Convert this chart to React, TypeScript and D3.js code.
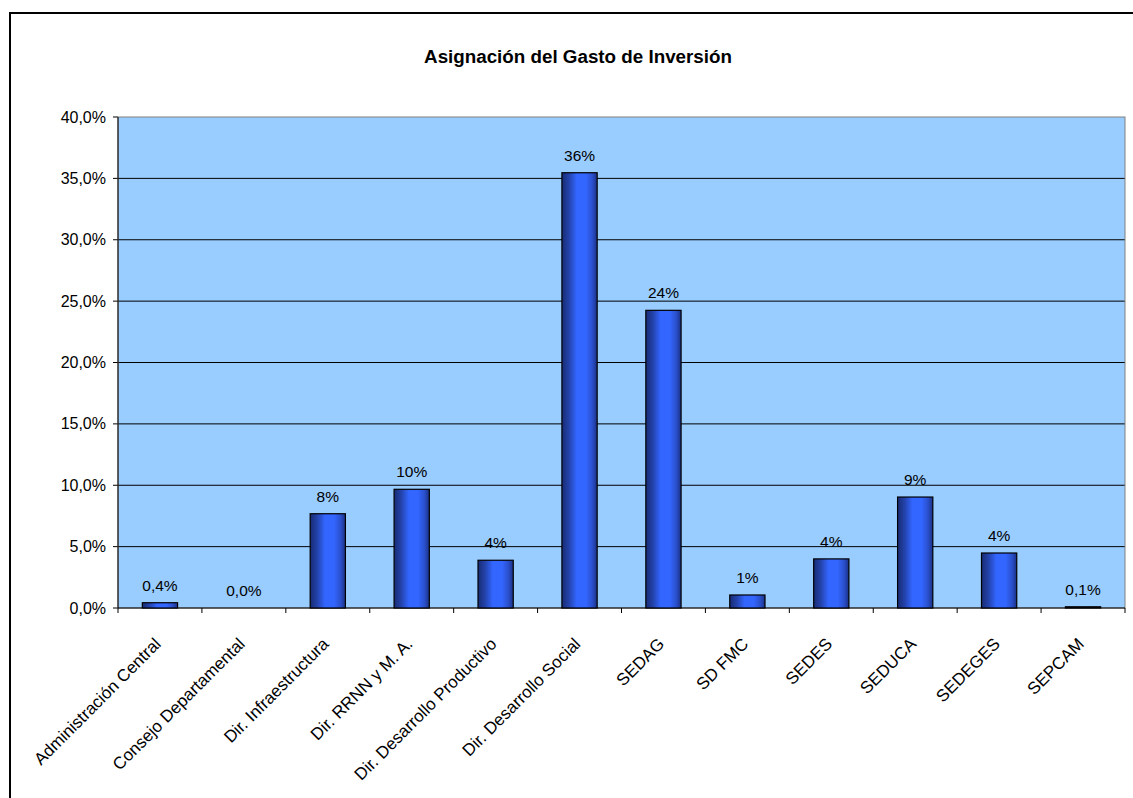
import React from "react";
import * as d3 from "d3";

const categories = [
  "Administración Central",
  "Consejo Departamental",
  "Dir. Infraestructura",
  "Dir. RRNN y M. A.",
  "Dir. Desarrollo Productivo",
  "Dir. Desarrollo Social",
  "SEDAG",
  "SD FMC",
  "SEDES",
  "SEDUCA",
  "SEDEGES",
  "SEPCAM",
];
const values = [0.43, 0.0, 7.68, 9.67, 3.89, 35.46, 24.25, 1.06, 4.0, 9.04, 4.48, 0.1];
const valueLabels = ["0,4%", "0,0%", "8%", "10%", "4%", "36%", "24%", "1%", "4%", "9%", "4%", "0,1%"];
const yTicks = [0, 5, 10, 15, 20, 25, 30, 35, 40];
const title = "Asignación del Gasto de Inversión";

const FONT = "'Liberation Sans', Arial, sans-serif";

export default function App() {
  const W = 1133, H = 798;
  const left = 118, right = 1125, top = 117, bottom = 608;
  const x = d3.scaleBand<string>().domain(categories).range([left, right]).paddingInner(0.58).paddingOuter(0.29);
  const xb = d3.scaleBand<string>().domain(categories).range([left, right]).padding(0);
  const y = d3.scaleLinear().domain([0, 40]).range([bottom, top]);
  const fmt = (v: number) => d3.format(".1f")(v).replace(".", ",") + "%";
  const boundaries = categories.map((c) => xb(c)!).concat([right]);

  return (
    <svg width={W} height={H} style={{ position: "absolute", left: 0, top: 0 }}>
      <defs>
        <linearGradient id="barGrad" x1="0" x2="1" y1="0" y2="0">
          <stop offset="0%" stopColor="#182c74" />
          <stop offset="20%" stopColor="#2342aa" />
          <stop offset="42%" stopColor="#3366ff" />
          <stop offset="68%" stopColor="#3366ff" />
          <stop offset="86%" stopColor="#2a50cc" />
          <stop offset="100%" stopColor="#1b3186" />
        </linearGradient>
      </defs>
      <rect x={0} y={0} width={W} height={H} fill="#ffffff" />
      <rect x={10} y={13} width={W + 20} height={H + 20} fill="none" stroke="#000" strokeWidth={2} />
      <text x={578} y={63} textAnchor="middle" fontFamily={FONT} fontSize={18.8} fontWeight="bold" fill="#000">
        {title}
      </text>
      <rect x={left} y={top} width={right - left} height={bottom - top} fill="#99ccff" />
      {yTicks.map((t) => (
        <g key={t}>
          {t > 0 && t < 40 && (
            <line x1={left} x2={right} y1={y(t)} y2={y(t)} stroke="#000" strokeWidth={1} />
          )}
          <line x1={left - 5} x2={left} y1={y(t)} y2={y(t)} stroke="#000" strokeWidth={1} />
          <text x={106} y={y(t)} dy="0.35em" textAnchor="end" fontFamily={FONT} fontSize={16} fill="#000">
            {fmt(t)}
          </text>
        </g>
      ))}
      <rect x={left} y={top} width={right - left} height={bottom - top} fill="none" stroke="#808080" strokeWidth={1} />
      <line x1={left} x2={left} y1={top} y2={bottom} stroke="#000" strokeWidth={1} />
      <line x1={left} x2={right} y1={bottom} y2={bottom} stroke="#000" strokeWidth={1} />
      {boundaries.map((b, i) => (
        <line key={i} x1={b} x2={b} y1={bottom} y2={bottom + 5} stroke="#000" strokeWidth={1} />
      ))}
      {categories.map((c, i) => {
        const v = values[i];
        const bx = x(c)!;
        const bw = x.bandwidth();
        const by = y(v);
        const cx = xb(c)! + xb.bandwidth() / 2;
        return (
          <g key={c}>
            {v > 0 && (
              <rect x={bx} y={by} width={bw} height={bottom - by} fill="url(#barGrad)" stroke="#000" strokeWidth={1.2} />
            )}
            <text x={cx} y={by - 12} textAnchor="middle" fontFamily={FONT} fontSize={15.5} fill="#000">
              {valueLabels[i]}
            </text>
            <text
              transform={`translate(${cx + 2},${bottom + 37}) rotate(-45)`}
              textAnchor="end"
              fontFamily={FONT}
              fontSize={17}
              fill="#000"
            >
              {c}
            </text>
          </g>
        );
      })}
    </svg>
  );
}
